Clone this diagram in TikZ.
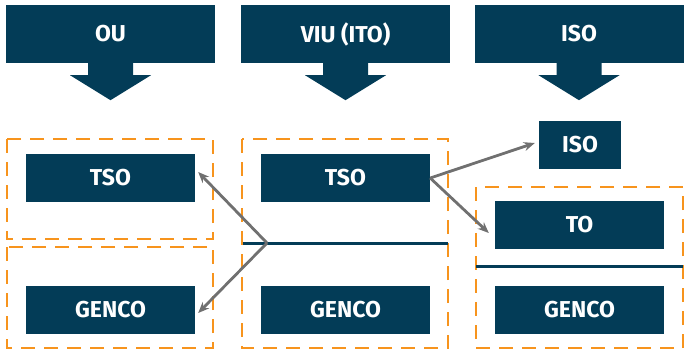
\documentclass[tikz,border=0pt]{standalone}
\usepackage{fontspec}
\setsansfont{Fira Sans}
\usetikzlibrary{arrows.meta}

\definecolor{navy}{HTML}{033C57}
\definecolor{dashorange}{HTML}{F7941D}
\definecolor{arrgray}{HTML}{707070}

\begin{document}
\begin{tikzpicture}[x=1pt, y=-1pt,
    box/.style={fill=navy, text=white, inner sep=0pt,
      font=\sffamily\bfseries\fontsize{23}{23}\selectfont},
    unit/.style={box, minimum width=169pt, minimum height=48pt},
    head/.style={box, minimum width=209pt, minimum height=58pt},
    group/.style={draw=dashorange, line width=2.8pt, dash pattern=on 14pt off 9pt},
    arr/.style={draw=arrgray, line width=2.8pt, -{Stealth[length=11pt,width=9pt]}}]
  \useasboundingbox (0,0) rectangle (685,349);

  % top row with the down arrows
  \node[head] (ou)  at (110.5, 34) {OU};
  \node[head] (viu) at (345.5, 34) {VIU (ITO)};
  \node[head] (iso) at (579,   34) {ISO};
  \foreach \h in {ou, viu, iso}
    \fill[navy] (\h.south) ++(-22.5,-1) -- ++(0,13) -- ++(-18,0)
      -- ++(40.5,25) -- ++(40.5,-25) -- ++(-18,0) -- ++(0,-13) -- cycle;

  % OU: two separate companies
  \draw[group] (7,139) rectangle (213,239);
  \draw[group] (7,247) rectangle (213,348);
  \node[unit] (tso1)   at (110.5, 178) {TSO};
  \node[unit] (genco1) at (110.5, 310) {GENCO};

  % VIU: one company, split inside
  \draw[group] (242,139) rectangle (448,348);
  \node[unit] (tso2)   at (345.5, 178) {TSO};
  \node[unit] (genco2) at (345.5, 310) {GENCO};
  \coordinate (hub) at (267,243);
  \draw[navy, line width=3pt] (243,243) -- (448,243);

  % ISO
  \node[box, minimum width=82pt, minimum height=48pt] (iso2) at (580,145) {ISO};
  \draw[group] (476,187) rectangle (683,348);
  \node[unit] (to3)    at (579.5, 225) {TO};
  \node[unit] (genco3) at (579.5, 310) {GENCO};
  \draw[navy, line width=3pt] (476,266) -- (683,266);

  \draw[arr] (hub) -- ([shift={(3,-6)}]tso1.east);
  \draw[arr] (hub) -- ([shift={(3,3)}]genco1.east);
  \draw[arr] (tso2.east) -- ([shift={(-4,-2)}]iso2.west);
  \draw[arr] (tso2.east) -- ([shift={(-6,8)}]to3.west);
\end{tikzpicture}
\end{document}
